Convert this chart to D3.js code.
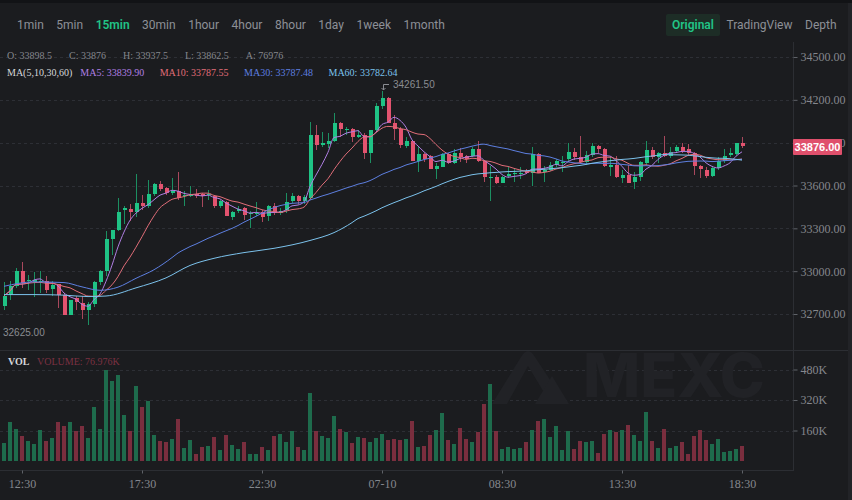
<!DOCTYPE html>
<html>
<head>
<meta charset="utf-8">
<script src="https://cdn.jsdelivr.net/npm/d3@7/dist/d3.min.js"></script>
<style>
html, body { margin: 0; padding: 0; background: #1b1c1f; overflow: hidden; }
svg { display: block; }
</style>
</head>
<body>
<svg id="chart" width="852" height="500"></svg>
<script>
// 15min candles, 11:45 -> 18:30 (next day)
var opens = [32754,32836,32894,32999,32929,32926,32924,32933,32877,32910,32836,32691,32812,32777,32726,32773,32922,32999,33225,33290,
  33425,33435,33411,33477,33458,33542,33612,33579,33546,33558,33523,33528,33539,33537,33530,33523,33453,33484,33379,33418,
  33442,33397,33397,33414,33383,33453,33407,33425,33488,33523,33488,33511,33954,33887,33891,33915,34036,33989,33994,33943,
  33954,33831,33989,34157,34211,34036,33994,33880,33915,33773,33822,33808,33714,33733,33822,33756,33831,33808,33808,33854,
  33775,33658,33663,33621,33670,33679,33682,33705,33686,33822,33698,33710,33745,33756,33784,33838,33798,33768,33814,33877,
  33854,33733,33744,33651,33674,33628,33658,33761,33849,33803,33831,33807,33845,33873,33854,33831,33737,33709,33667,33721,
  33775,33812,33821,33898.5];
var highs = [32922,32929,33022,33066,32975,32994,33003,32964,32929,32910,32847,32801,32824,32824,32782,32929,33010,33278,33290,33511,
  33453,33472,33679,33535,33640,33616,33635,33588,33651,33693,33558,33593,33574,33546,33570,33535,33500,33493,33418,33453,
  33449,33418,33484,33430,33465,33477,33442,33546,33546,33535,33535,34048,34024,33978,33966,34106,34048,34013,34001,33989,
  33966,33989,34176,34261.5,34222,34094,34013,33938,33919,33873,33831,33815,33761,33831,33831,33854,33861,33815,33873,33912,
  33780,33738,33675,33668,33728,33714,33728,33714,33868,33831,33738,33768,33784,33807,33900,33861,33947,33842,33896,33884,
  33861,33803,33807,33709,33744,33698,33775,33912,33873,33838,33947,33873,33884,33896,33891,33838,33744,33733,33733,33803,
  33854,33861,33900,33937.5];
var lows = [32731,32801,32882,32882,32866,32819,32847,32847,32824,32742,32691,32691,32731,32665,32625,32749,32905,32964,33115,33278,
  33332,33348,33379,33430,33442,33523,33558,33535,33535,33495,33453,33518,33511,33446,33500,33442,33442,33383,33360,33407,
  33360,33302,33383,33341,33348,33395,33395,33407,33477,33472,33472,33500,33850,33873,33861,33908,33943,33954,33908,33931,
  33784,33761,33978,34134,34036,33919,33861,33861,33773,33698,33768,33714,33647,33728,33752,33752,33768,33761,33798,33768,
  33628,33488,33612,33616,33651,33628,33644,33682,33593,33686,33628,33705,33733,33698,33768,33779,33756,33744,33803,33826,
  33733,33667,33651,33616,33616,33574,33635,33744,33784,33756,33798,33791,33826,33826,33814,33674,33651,33651,33658,33709,
  33756,33798,33814,33862.5];
var closes = [32829,32894,32999,32917,32940,32940,32933,32870,32905,32836,32691,32801,32782,32726,32773,32922,32999,33225,33290,33414,
  33442,33411,33477,33458,33542,33612,33574,33546,33558,33511,33535,33537,33528,33523,33539,33453,33488,33383,33414,33437,
  33395,33407,33407,33379,33458,33407,33418,33481,33523,33488,33518,33954,33884,33896,33912,34036,33994,33994,33943,33954,
  33826,33989,34157,34211,34036,33994,33884,33912,33773,33822,33789,33714,33738,33822,33756,33826,33803,33784,33854,33775,
  33663,33663,33621,33663,33682,33691,33691,33686,33822,33691,33710,33745,33773,33768,33838,33803,33768,33814,33877,33854,
  33740,33744,33658,33674,33621,33663,33768,33849,33803,33831,33807,33838,33873,33845,33831,33737,33714,33667,33721,33775,
  33807,33826,33896,33876];
// volume in K
var volumes = [96,206,169,129,103,88,165,103,119,206,186,206,160,181,119,284,169,478,418,449,
  243,157,392,284,315,139,103,100,114,222,69,108,36,72,77,124,57,139,83,62,
  98,36,36,72,57,129,144,98,155,72,57,356,157,129,119,237,170,150,93,124,
  119,98,119,144,108,114,108,114,212,72,77,139,165,253,108,88,175,114,98,150,
  299,402,160,62,72,62,67,98,165,212,222,124,186,57,160,62,103,98,103,41,
  144,165,150,165,191,134,103,258,103,67,170,67,77,98,36,129,165,108,88,114,
  46,52,62,76.976];

// MA30 / MA60 before their window fills
var ma30Early = [[0,32894],[5,32925],[10,32920],[13,32890],[16,32866],[19,32888],[22,32950],[25,33010],[28,33095]];
var ma60Early = [[0,32836],[5,32836],[10,32832],[14,32822],[17,32826],[22,32883],[27,32953],[31,33040],[35,33090],
  [40,33130],[45,33160],[51,33215],[55,33270],[58,33340]];
var maLegend = [33839.90, 33787.55, 33787.48, 33782.64];

var timeTicks = [3, 23, 43, 63, 83, 103, 123];
var timeLabels = ["12:30", "17:30", "22:30", "07-10", "08:30", "13:30", "18:30"];
var priceTicks = [32700, 33000, 33300, 33600, 33900, 34200, 34500];
var volTicks = [160, 320, 480];
var intervals = ["1min","5min","15min","30min","1hour","4hour","8hour","1day","1week","1month"];
var views = ["Original", "TradingView", "Depth"];

var GREEN = "#1fc385", RED = "#e3536f";
var GREEN_W = "#1c8f62", RED_W = "#a9485d";
var GREEN_V = "#1e6b4c", RED_V = "#7a2e3e";
var MA_COLORS = ["#b07fe3", "#e06d78", "#5d7fe0", "#7cc2ec"];
var SERIF = "'Liberation Serif', 'Times New Roman', serif";
var SANS = "Roboto, 'Liberation Sans', Arial, sans-serif";

var svg = d3.select("#chart");
var axisX = 793;

var x = d3.scaleLinear().domain([0, closes.length - 1]).range([4, 742]);
var yP = d3.scaleLinear().domain([32700, 34500]).range([314, 57]);
var yV = d3.scaleLinear().domain([0, 480]).range([461, 369.5]);

svg.append("rect").attr("width", 852).attr("height", 500).attr("fill", "#1b1c1f");
svg.append("rect").attr("width", 852).attr("height", 3).attr("fill", "#121316");
svg.append("rect").attr("x", 848).attr("y", 3).attr("width", 4).attr("height", 497).attr("fill", "#222327");

// toolbar
var tx = 17;
intervals.forEach(function(t) {
  var node = svg.append("text")
    .attr("x", tx).attr("y", 29)
    .attr("font-family", SANS).attr("font-size", 12)
    .attr("font-weight", t === "15min" ? 600 : 400)
    .attr("fill", t === "15min" ? "#21c386" : "#8d9097")
    .text(t);
  tx += node.node().getComputedTextLength() + 12.5;
});
svg.append("rect").attr("x", 666).attr("y", 14).attr("width", 54).attr("height", 22)
  .attr("rx", 2).attr("fill", "#1d2d26");
var vx = 672;
views.forEach(function(t, i) {
  var node = svg.append("text")
    .attr("x", vx).attr("y", 29)
    .attr("font-family", SANS).attr("font-size", 12)
    .attr("font-weight", i === 0 ? 600 : 400)
    .attr("fill", i === 0 ? "#21c386" : "#8d9097")
    .text(t);
  vx += node.node().getComputedTextLength() + 12.5;
});

// frame lines
var frame = svg.append("g").attr("stroke", "#2c2e33").attr("shape-rendering", "crispEdges");
frame.append("line").attr("x1", axisX + 0.5).attr("x2", axisX + 0.5).attr("y1", 42).attr("y2", 471);
frame.append("line").attr("x1", 0).attr("x2", 848).attr("y1", 350.5).attr("y2", 350.5);
frame.append("line").attr("x1", 0).attr("x2", axisX).attr("y1", 470.5).attr("y2", 470.5);

// grid
var grid = svg.append("g").attr("stroke", "#2d2f35").attr("stroke-dasharray", "3,3")
  .attr("shape-rendering", "crispEdges");
grid.selectAll(".gp").data(priceTicks).enter().append("line")
  .attr("x1", 0).attr("x2", axisX)
  .attr("y1", function(d) { return Math.round(yP(d)) + 0.5; })
  .attr("y2", function(d) { return Math.round(yP(d)) + 0.5; });
grid.selectAll(".gv").data(volTicks).enter().append("line")
  .attr("x1", 0).attr("x2", axisX)
  .attr("y1", function(d) { return Math.round(yV(d)) + 0.5; })
  .attr("y2", function(d) { return Math.round(yV(d)) + 0.5; });

// watermark
var wm = svg.append("g").attr("fill", "#212226");
wm.append("path").attr("d", "M492,404 L521,357 Q528,345 535,357 L566,404 L551,404 L528,366 L507,404 Z");
wm.append("path").attr("d", "M535,404 L552,376 L569,404 Z");
wm.append("text").attr("x", 583).attr("y", 397)
  .attr("font-family", "Inter, 'DejaVu Sans', sans-serif").attr("font-weight", 800)
  .attr("font-size", 60).attr("textLength", 182).attr("lengthAdjust", "spacingAndGlyphs")
  .text("MEXC");

var candles = closes.map(function(c, i) {
  return { i: i, o: opens[i], h: highs[i], l: lows[i], c: c, v: volumes[i], up: c >= opens[i] };
});

// volume bars
svg.append("g").attr("shape-rendering", "crispEdges")
  .selectAll("rect").data(candles).enter().append("rect")
  .attr("x", function(d) { return Math.round(x(d.i)) - 2; })
  .attr("width", 4)
  .attr("y", function(d) { return yV(d.v); })
  .attr("height", function(d) { return yV(0) - yV(d.v); })
  .attr("fill", function(d) { return d.up ? GREEN_V : RED_V; });

// candles
var cg = svg.append("g").attr("shape-rendering", "crispEdges");
cg.selectAll("line").data(candles).enter().append("line")
  .attr("x1", function(d) { return Math.round(x(d.i)) + 0.5; })
  .attr("x2", function(d) { return Math.round(x(d.i)) + 0.5; })
  .attr("y1", function(d) { return yP(d.h); })
  .attr("y2", function(d) { return yP(d.l); })
  .attr("stroke", function(d) { return d.up ? GREEN_W : RED_W; });
cg.selectAll("rect").data(candles).enter().append("rect")
  .attr("x", function(d) { return Math.round(x(d.i)) - 1.5; })
  .attr("width", 4)
  .attr("y", function(d) { return yP(Math.max(d.o, d.c)); })
  .attr("height", function(d) { return Math.max(1, Math.abs(yP(d.o) - yP(d.c))); })
  .attr("fill", function(d) { return d.up ? GREEN : RED; });

// moving averages
function maSeries(n, early) {
  var pts = early ? early.slice() : [];
  closes.forEach(function(c, i) {
    if (!early || i >= n - 1) {
      pts.push([i, d3.mean(closes.slice(Math.max(0, i - n + 1), i + 1))]);
    }
  });
  return pts;
}
var maData = [maSeries(5), maSeries(10), maSeries(30, ma30Early), maSeries(60, ma60Early)];
var line = d3.line()
  .x(function(d) { return x(d[0]); })
  .y(function(d) { return yP(d[1]); })
  .curve(d3.curveMonotoneX);
svg.append("g").selectAll("path").data(maData).enter().append("path")
  .attr("d", line).attr("fill", "none")
  .attr("stroke", function(d, i) { return MA_COLORS[i]; })
  .attr("stroke-width", 1);

// axes
var priceAxis = svg.append("g").attr("transform", "translate(" + (axisX + 0.5) + ",0)")
  .call(d3.axisRight(yP).tickValues(priceTicks).tickSize(4).tickPadding(3).tickFormat(d3.format(".2f")));
var volAxis = svg.append("g").attr("transform", "translate(" + (axisX + 0.5) + ",0)")
  .call(d3.axisRight(yV).tickValues(volTicks).tickSize(4).tickPadding(3)
    .tickFormat(function(d) { return d + "K"; }));
var timeAxis = svg.append("g").attr("transform", "translate(0,470.5)")
  .call(d3.axisBottom(x).tickValues(timeTicks).tickSize(3).tickPadding(6)
    .tickFormat(function(d, i) { return timeLabels[i]; }));
[priceAxis, volAxis, timeAxis].forEach(function(a) {
  a.select(".domain").remove();
  a.selectAll(".tick line").attr("stroke", "#5f6268");
  a.selectAll("text").attr("fill", "#85878d").attr("font-size", 12).attr("font-family", SERIF);
});

// last price tag
var last = candles[candles.length - 1];
svg.append("rect").attr("x", axisX).attr("y", Math.round(yP(last.c)) - 7)
  .attr("width", 49).attr("height", 16).attr("rx", 1).attr("fill", "#e0506c");
svg.append("text").attr("x", axisX + 24.5).attr("y", Math.round(yP(last.c)) + 5)
  .attr("text-anchor", "middle").attr("fill", "#ffffff")
  .attr("font-family", "'Liberation Sans', Arial, sans-serif").attr("font-size", 11).attr("font-weight", 700)
  .text(d3.format(".2f")(last.c));

// high / low markers
var hiIdx = d3.maxIndex(highs), loIdx = d3.minIndex(lows);
var hx = Math.round(x(hiIdx)), hy = Math.round(yP(highs[hiIdx]));
svg.append("path")
  .attr("d", "M" + (hx + 7) + "," + (hy - 6.5) + " H" + (hx + 1.5) + " V" + (hy - 1) +
    " M" + (hx - 0.5) + "," + (hy - 3) + " L" + (hx + 1.5) + "," + (hy - 1) + " L" + (hx + 3.5) + "," + (hy - 3))
  .attr("fill", "none").attr("stroke", "#8a8c92").attr("stroke-width", 1);
svg.append("text").attr("x", hx + 11).attr("y", hy - 3)
  .attr("font-family", "'Liberation Sans', Arial, sans-serif").attr("font-size", 10).attr("fill", "#8a8c92")
  .text(d3.format(".2f")(highs[hiIdx]));
svg.append("text").attr("x", 3).attr("y", Math.round(yP(lows[loIdx])) + 11)
  .attr("font-family", "'Liberation Sans', Arial, sans-serif").attr("font-size", 10).attr("fill", "#8a8c92")
  .text(d3.format(".2f")(lows[loIdx]));

// legends
var ohlc = [["O", last.o], ["C", last.c], ["H", last.h], ["L", last.l], ["A", Math.round(last.v * 1000)]];
var lx = 7;
ohlc.forEach(function(p) {
  var node = svg.append("text").attr("x", lx).attr("y", 58.5)
    .attr("font-family", SERIF).attr("font-size", 10).attr("fill", "#85878d")
    .text(p[0] + ": " + p[1]);
  lx += node.node().getComputedTextLength() + 17;
});
var mx = 7;
var maItems = [["MA(5,10,30,60)", "#d6d7da"]].concat(["MA5", "MA10", "MA30", "MA60"].map(function(n, i) {
  return [n + ": " + d3.format(".2f")(maLegend[i]), MA_COLORS[i]];
}));
maItems.forEach(function(m, i) {
  var node = svg.append("text").attr("x", mx).attr("y", 76)
    .attr("font-family", SERIF).attr("font-size", 10).attr("fill", m[1])
    .text(m[0]);
  mx += node.node().getComputedTextLength() + (i === 0 ? 8 : 15.5);
});
svg.append("text").attr("x", 8).attr("y", 364.5)
  .attr("font-family", SERIF).attr("font-size", 10).attr("font-weight", 700).attr("fill", "#d6d7da")
  .text("VOL");
svg.append("text").attr("x", 37).attr("y", 364.5)
  .attr("font-family", SERIF).attr("font-size", 10).attr("fill", "#7c3142")
  .text("VOLUME: " + last.v + "K");
</script>
</body>
</html>
